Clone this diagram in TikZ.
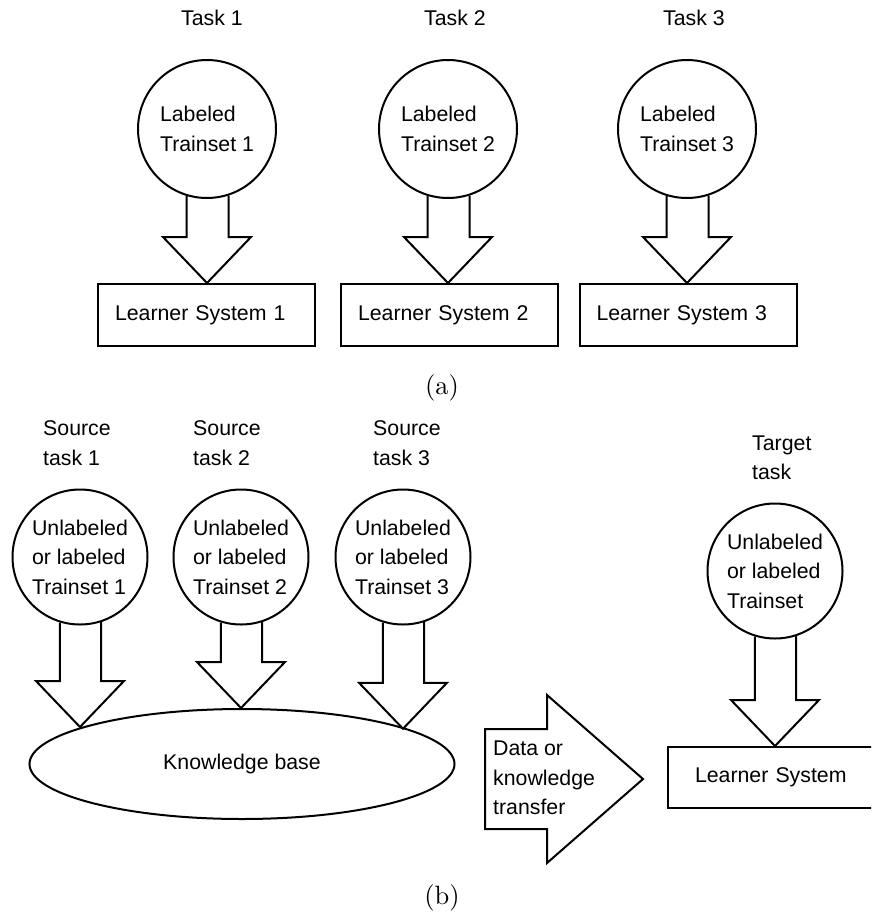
\documentclass[tikz,border=0pt]{standalone}
\usepackage{fontspec}
\newfontfamily\arialfont{Liberation Sans}
\usetikzlibrary{shapes.geometric,calc}

\newcommand\blockarrow[2]{%
  \draw[blk] let \p1=(#1.-107.7), \p2=(#1.-72.3), \p3=(#2) in
    (\x1,\y1) -- (\x1,\y3+46pt) -- (\x3-44pt,\y3+46pt) -- (\x3,\y3)
    -- (\x3+44pt,\y3+46pt) -- (\x2,\y3+46pt) -- (\x2,\y2);
}
\newcommand\captxt[1]{\scalebox{2.65}{\fontsize{10}{12}\selectfont #1}}

\begin{document}
\begin{tikzpicture}[x=1pt,y=-1pt,
  every node/.style={font=\arialfont\fontsize{21.3}{29.5}\selectfont},
  lw/.style={line width=2pt},
  circ/.style={draw, lw, circle, minimum size=138pt, inner sep=0pt, align=left},
  lbox/.style={draw, lw, rectangle, minimum height=62pt, text width=183pt, inner xsep=17pt, align=left},
  lbl/.style={inner sep=0pt, align=left},
  blk/.style={draw, lw, line join=miter},
  captext/.style={font=\normalfont, inner sep=0pt}]
\useasboundingbox (0,0) rectangle (871,913);
\clip (0,0) rectangle (871,913);

% ---------- (a) ----------
\node (t1) at (212,18) {Task 1};
\node (t2) at (455,18) {Task 2};
\node (t3) at (694,18) {Task 3};

\node[circ] (c1) at (207,129) {Labeled\\Trainset 1};
\node[circ] (c2) at (448,129) {Labeled\\Trainset 2};
\node[circ] (c3) at (687,129) {Labeled\\Trainset 3};

\node[lbox] (L1) at (206.5,315) {Learner System 1};
\node[lbox] (L2) at (449.5,315) {Learner System 2};
\node[lbox] (L3) at (688,315) {Learner System 3};

\blockarrow{c1}{c1 |- L1.north}
\blockarrow{c2}{c2 |- L2.north}
\blockarrow{c3}{c3 |- L3.north}

\node[captext] (capa) at (442,388) {\captxt{(a)}};

% ---------- (b) ----------
\node[lbl, anchor=west] (s1) at (43,443) {Source\\task 1};
\node[lbl, anchor=west] (s2) at (193,443) {Source\\task 2};
\node[lbl, anchor=west] (s3) at (373,443) {Source\\task 3};
\node[lbl, anchor=west] (tt) at (752,458) {Target\\task};

\node[circ, minimum size=135pt] (b1) at (80,557) {Unlabeled\\or labeled\\Trainset 1};
\node[circ, minimum size=135pt] (b2) at (241,557) {Unlabeled\\or labeled\\Trainset 2};
\node[circ, minimum size=135pt] (b3) at (403,557) {Unlabeled\\or labeled\\Trainset 3};
\node[circ, minimum size=135pt] (tc) at (775,571) {Unlabeled\\or labeled\\Trainset};

\node[draw, lw, ellipse, minimum width=425pt, minimum height=110pt] (kb) at (242,764) {Knowledge base};

\node[draw, lw, rectangle, anchor=west, minimum height=61pt, text width=180pt, inner xsep=27pt, align=left] (ls) at (667,777.5) {Learner System};

\blockarrow{b1}{b1 |- kb.167.34}
\blockarrow{b2}{b2 |- kb.north}
\blockarrow{b3}{b3 |- kb.12.66}
\blockarrow{tc}{tc |- ls.north}

% big transfer arrow
\draw[blk] (485,729) -- (547,729) -- (547,695) -- (643,779) -- (547,863) -- (547,829) -- (485,829) -- cycle;
\node[lbl, anchor=west] (xfer) at (493,778) {Data or\\knowledge\\transfer};

\node[captext] (capb) at (442,898) {\captxt{(b)}};
\end{tikzpicture}
\end{document}
